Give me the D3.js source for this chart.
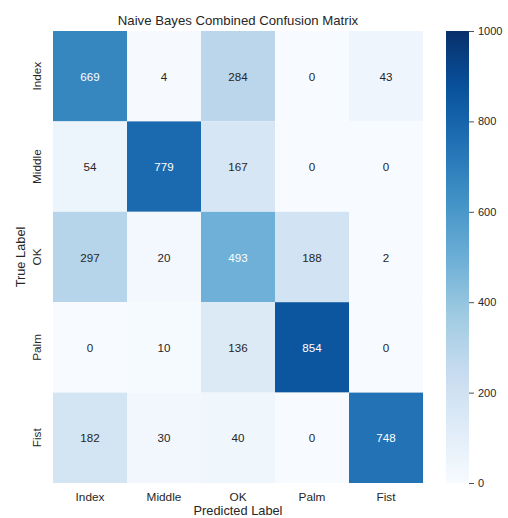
<!DOCTYPE html>
<html>
<head>
<meta charset="utf-8">
<script src="https://cdn.jsdelivr.net/npm/d3@7"></script>
<style>
  body { margin: 0; background: #fff; }
  text { font-family: "Liberation Sans", Arial, sans-serif; fill: #262626; }
</style>
</head>
<body>
<svg id="chart" width="508" height="518"></svg>
<script>
// Confusion matrix counts: rows = true label, columns = predicted label
const labels = ["Index", "Middle", "OK", "Palm", "Fist"];
const rowIndex  = [669, 4, 284, 0, 43];
const rowMiddle = [54, 779, 167, 0, 0];
const rowOK     = [297, 20, 493, 188, 2];
const rowPalm   = [0, 10, 136, 854, 0];
const rowFist   = [182, 30, 40, 0, 748];
const matrix = [rowIndex, rowMiddle, rowOK, rowPalm, rowFist];
const colorTicks = [0, 200, 400, 600, 800, 1000];
const vmin = 0, vmax = 1000;

// Blues colour ramp (9 evenly spaced anchors, linear in RGB)
const bluesStops = ["#f7fbff", "#deebf7", "#c6dbef", "#9ecae1", "#6baed6",
                    "#4292c6", "#2171b5", "#08519c", "#08306b"];
const blues = d3.scaleLinear()
  .domain(d3.range(bluesStops.length).map(i => i / (bluesStops.length - 1)))
  .range(bluesStops).interpolate(d3.interpolateRgb);

const svg = d3.select("#chart");
const m = { left: 53, top: 31, right: 423, bottom: 483 };

const x = d3.scaleBand().domain(labels).range([m.left, m.right]);
const y = d3.scaleBand().domain(labels).range([m.top, m.bottom]);
const norm = d3.scaleLinear().domain([vmin, vmax]).range([0, 1]).clamp(true);
const color = v => blues(norm(v));

// relative luminance decides light or dark annotation text
function lum(c) {
  const rgb = d3.rgb(c);
  const f = ch => { ch /= 255; return ch <= 0.03928 ? ch / 12.92 : Math.pow((ch + 0.055) / 1.055, 2.4); };
  return 0.2126 * f(rgb.r) + 0.7152 * f(rgb.g) + 0.0722 * f(rgb.b);
}

const cells = [];
matrix.forEach((row, i) => row.forEach((v, j) => cells.push({ r: labels[i], c: labels[j], v })));

svg.append("g").selectAll("rect").data(cells).join("rect")
  .attr("x", d => x(d.c)).attr("y", d => y(d.r))
  .attr("width", x.bandwidth()).attr("height", y.bandwidth())
  .attr("fill", d => color(d.v));

svg.append("g").selectAll("text").data(cells).join("text")
  .attr("x", d => x(d.c) + x.bandwidth() / 2)
  .attr("y", d => y(d.r) + y.bandwidth() / 2)
  .attr("text-anchor", "middle").attr("dominant-baseline", "central")
  .style("font-size", "11.6px")
  .style("fill", d => lum(color(d.v)) > 0.408 ? "#262626" : "#ffffff")
  .text(d => d.v);

// x tick labels
svg.append("g").selectAll("text").data(labels).join("text")
  .attr("x", d => x(d) + x.bandwidth() / 2).attr("y", 497)
  .attr("text-anchor", "middle").attr("dominant-baseline", "central")
  .style("font-size", "11.8px").text(d => d);

// y tick labels (rotated)
svg.append("g").selectAll("text").data(labels).join("text")
  .attr("transform", d => `translate(37,${y(d) + y.bandwidth() / 2}) rotate(-90)`)
  .attr("text-anchor", "middle").attr("dominant-baseline", "central")
  .style("font-size", "11.8px").text(d => d);

svg.append("text").attr("x", (m.left + m.right) / 2).attr("y", 510.5)
  .attr("text-anchor", "middle").attr("dominant-baseline", "central")
  .style("font-size", "12.8px").text("Predicted Label");

svg.append("text").attr("transform", `translate(20,${(m.top + m.bottom) / 2}) rotate(-90)`)
  .attr("text-anchor", "middle").attr("dominant-baseline", "central")
  .style("font-size", "12.8px").text("True Label");

svg.append("text").attr("x", (m.left + m.right) / 2).attr("y", 20)
  .attr("text-anchor", "middle").attr("dominant-baseline", "central")
  .style("font-size", "13.2px").text("Naive Bayes Combined Confusion Matrix");

// colorbar
const cb = { x: 446, w: 23 };
const cy = d3.scaleLinear().domain([vmin, vmax]).range([m.bottom, m.top]);
const grad = svg.append("defs").append("linearGradient").attr("id", "cbar")
  .attr("x1", 0).attr("y1", 1).attr("x2", 0).attr("y2", 0);
d3.range(0, 1.0001, 0.02).forEach(t => grad.append("stop")
  .attr("offset", t).attr("stop-color", blues(t)));
svg.append("rect").attr("x", cb.x).attr("y", m.top)
  .attr("width", cb.w).attr("height", m.bottom - m.top).attr("fill", "url(#cbar)");

const axis = d3.axisRight(cy).tickValues(colorTicks).tickFormat(d3.format("d"))
  .tickSize(5).tickPadding(4);
const ag = svg.append("g").attr("transform", `translate(${cb.x + cb.w},0)`).call(axis);
ag.select(".domain").remove();
ag.selectAll(".tick line").attr("stroke", "#262626").attr("stroke-width", 0.8);
ag.selectAll(".tick text").style("font-size", "11px").style("font-family", "Liberation Sans, Arial, sans-serif").attr("fill", "#262626");
</script>
</body>
</html>
